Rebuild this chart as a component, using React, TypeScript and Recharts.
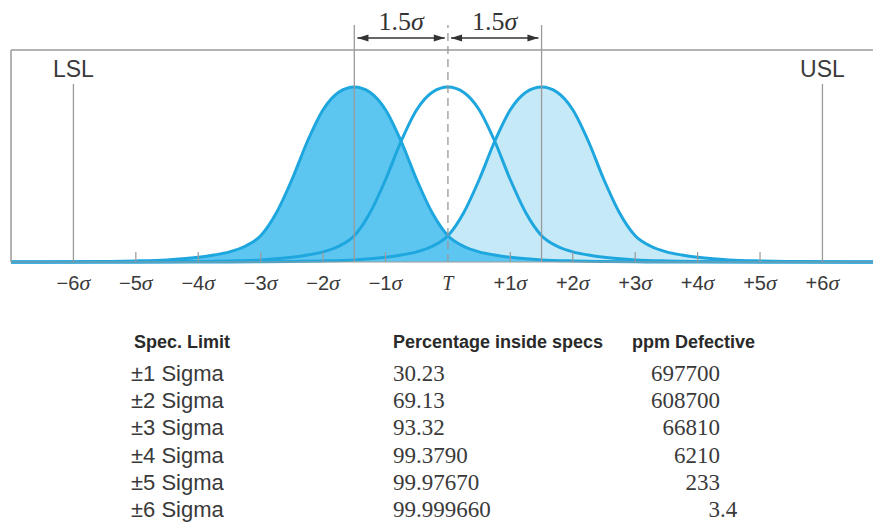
import React from 'react';
import { ComposedChart, Area, Line, XAxis, YAxis, ReferenceLine } from 'recharts';

// Bell-curve profile: offset from the curve's mean (in axis sigma units) and relative height
const CURVE_OFFSETS = [-5, -4.5, -4, -3.5, -3, -2.75, -2.5, -2.25, -2, -1.75, -1.5, -1.25, -1, -0.75, -0.5, -0.25, 0, 0.25, 0.5, 0.75, 1, 1.25, 1.5, 1.75, 2, 2.25, 2.5, 2.75, 3, 3.5, 4, 4.5, 5];
const CURVE_HEIGHTS = [0, 0.001, 0.003, 0.006, 0.012, 0.018, 0.027, 0.04, 0.058, 0.09, 0.15, 0.28, 0.47, 0.69, 0.87, 0.97, 1, 0.97, 0.87, 0.69, 0.47, 0.28, 0.15, 0.09, 0.058, 0.04, 0.027, 0.018, 0.012, 0.006, 0.003, 0.001, 0];

const MEAN_LEFT = -1.5;
const MEAN_CENTER = 0;
const MEAN_RIGHT = 1.5;

const X_MIN = -7;
const X_MAX = 6.81;
const Y_MAX = 1.2114;

const TICK_VALUES = [-6, -5, -4, -3, -2, -1, 0, 1, 2, 3, 4, 5, 6];
const TICK_LABELS = ['−6', '−5', '−4', '−3', '−2', '−1', 'T', '+1', '+2', '+3', '+4', '+5', '+6'];

const TABLE_HEADERS = ['Spec. Limit', 'Percentage inside specs', 'ppm Defective'];
const SPEC_LIMITS = ['±1 Sigma', '±2 Sigma', '±3 Sigma', '±4 Sigma', '±5 Sigma', '±6 Sigma'];
const PCT_INSIDE = ['30.23', '69.13', '93.32', '99.3790', '99.97670', '99.999660'];
const PPM_DEFECTIVE = ['697700', '608700', '66810', '6210', '233', '3.4'];

const buildCurve = (mean: number) => {
  const pts = CURVE_OFFSETS.map((o, i) => ({ x: mean + o, y: CURVE_HEIGHTS[i] }));
  return [{ x: X_MIN, y: 0 }, ...pts, { x: X_MAX, y: 0 }];
};

const leftData = buildCurve(MEAN_LEFT);
const centerData = buildCurve(MEAN_CENTER);
const rightData = buildCurve(MEAN_RIGHT);

const STROKE = '#1ea6de';
const DARK_FILL = '#5cc6f0';
const LIGHT_FILL = '#c6e9f8';
const GREY = '#9a9a9a';
const TEXT = '#3a3a3a';

const SigmaTick = (props: any) => {
  const { x, y, payload } = props;
  const v = payload.value;
  const i = TICK_VALUES.indexOf(v);
  const label = TICK_LABELS[i];
  const mark = Math.abs(v) !== 6 && v !== 0;
  return (
    <g>
      {mark && <line x1={x} x2={x} y1={y} y2={y - 10} stroke={GREY} strokeWidth={1.2} />}
      <text x={x} y={y + 28} textAnchor="middle" fill={TEXT} fontSize={20} fontFamily="'Liberation Sans', Arial, sans-serif">
        {v === 0 ? (
          <tspan fontFamily="'Liberation Serif', serif" fontStyle="italic">T</tspan>
        ) : (
          <>
            <tspan>{label}</tspan>
            <tspan fontFamily="'Liberation Serif', serif" fontStyle="italic" fontSize={22}>σ</tspan>
          </>
        )}
      </text>
    </g>
  );
};

const arrowShape = (p: any) => {
  const { x1, y1, x2, y2 } = p;
  const h = 11;
  const w = 3.5;
  return (
    <g>
      <line x1={x1} y1={y1} x2={x2} y2={y2} stroke="#333" strokeWidth={1.3} />
      <polygon points={`${x1},${y1} ${x1 + h},${y1 - w} ${x1 + h},${y1 + w}`} fill="#333" />
      <polygon points={`${x2},${y2} ${x2 - h},${y2 - w} ${x2 - h},${y2 + w}`} fill="#333" />
      <text x={(x1 + x2) / 2} y={y1 - 8} textAnchor="middle" fill="#333" fontSize={26} fontFamily="'Liberation Serif', serif">
        1.5<tspan fontStyle="italic">σ</tspan>
      </text>
    </g>
  );
};

const specShape = (label: string) => (p: any) => {
  const { x1, y1, x2, y2 } = p;
  const top = Math.min(y1, y2);
  return (
    <g>
      <line x1={x1} y1={y1} x2={x2} y2={y2} stroke={GREY} strokeWidth={1.3} />
      <text x={x1} y={top - 7} textAnchor="middle" fill={TEXT} fontSize={23} fontFamily="'Liberation Sans', Arial, sans-serif">
        {label}
      </text>
    </g>
  );
};

const LINE_TOP = 1.354;
const ARROW_Y = 1.28;

export default function App() {
  const rowY = (i: number) => 381 + i * 27.2;
  return (
    <div style={{ position: 'relative', width: 873, height: 523, background: '#fff' }}>
      <style>{'body{margin:0;background:#fff}'}</style>
      <ComposedChart width={873} height={523} margin={{ top: 50, right: 0, bottom: 231, left: 11 }}>
        <XAxis
          type="number"
          dataKey="x"
          domain={[X_MIN, X_MAX]}
          ticks={TICK_VALUES}
          interval={0}
          height={30}
          tickSize={0}
          tickMargin={0}
          tickLine={false}
          axisLine={{ stroke: GREY, strokeWidth: 1.2 }}
          tick={<SigmaTick />}
        />
        <YAxis type="number" domain={[0, Y_MAX]} hide />
        <Area data={rightData} dataKey="y" type="monotone" stroke="none" fill={LIGHT_FILL} fillOpacity={1} isAnimationActive={false} />
        <Area data={leftData} dataKey="y" type="monotone" stroke="none" fill={DARK_FILL} fillOpacity={1} isAnimationActive={false} />
        <Line data={rightData} dataKey="y" type="monotone" stroke={STROKE} strokeWidth={3} dot={false} isAnimationActive={false} />
        <Line data={centerData} dataKey="y" type="monotone" stroke={STROKE} strokeWidth={3} dot={false} isAnimationActive={false} />
        <Line data={leftData} dataKey="y" type="monotone" stroke={STROKE} strokeWidth={3} dot={false} isAnimationActive={false} />
        <ReferenceLine y={Y_MAX} stroke={GREY} strokeWidth={1.5} />
        <ReferenceLine x={X_MIN} stroke={GREY} strokeWidth={1.5} />
        <ReferenceLine segment={[{ x: -6, y: 0 }, { x: -6, y: 1.017 }]} ifOverflow="visible" shape={specShape('LSL')} />
        <ReferenceLine segment={[{ x: 6, y: 0 }, { x: 6, y: 1.017 }]} ifOverflow="visible" shape={specShape('USL')} />
        <ReferenceLine segment={[{ x: MEAN_LEFT, y: 0 }, { x: MEAN_LEFT, y: LINE_TOP }]} ifOverflow="visible" stroke={GREY} strokeWidth={1.3} />
        <ReferenceLine segment={[{ x: MEAN_RIGHT, y: 0 }, { x: MEAN_RIGHT, y: LINE_TOP }]} ifOverflow="visible" stroke={GREY} strokeWidth={1.3} />
        <ReferenceLine segment={[{ x: MEAN_CENTER, y: 0 }, { x: MEAN_CENTER, y: LINE_TOP }]} ifOverflow="visible" stroke={GREY} strokeWidth={1.3} strokeDasharray="8 5" />
        <ReferenceLine segment={[{ x: -1.45, y: ARROW_Y }, { x: -0.05, y: ARROW_Y }]} ifOverflow="visible" shape={arrowShape} />
        <ReferenceLine segment={[{ x: 0.05, y: ARROW_Y }, { x: 1.45, y: ARROW_Y }]} ifOverflow="visible" shape={arrowShape} />
      </ComposedChart>
      <svg width={873} height={523} style={{ position: 'absolute', left: 0, top: 0, pointerEvents: 'none' }}>
        <g fontFamily="'Liberation Sans Narrow', 'Arial Narrow', 'Liberation Sans', sans-serif" fontWeight={700} fontSize={18} fill="#2a2a2a">
          <text x={134} y={348}>{TABLE_HEADERS[0]}</text>
          <text x={393} y={348}>{TABLE_HEADERS[1]}</text>
          <text x={632} y={348}>{TABLE_HEADERS[2]}</text>
        </g>
        {SPEC_LIMITS.map((s, i) => (
          <text key={'s' + i} x={131} y={rowY(i)} fontFamily="'Liberation Sans', Arial, sans-serif" fontSize={22} fill={TEXT}>{s}</text>
        ))}
        {PCT_INSIDE.map((s, i) => (
          <text key={'p' + i} x={393} y={rowY(i)} fontFamily="'Liberation Serif', serif" fontSize={23} fill={TEXT}>{s}</text>
        ))}
        {PPM_DEFECTIVE.map((s, i) => {
          const [intPart, frac] = s.split('.');
          return (
            <g key={'d' + i} fontFamily="'Liberation Serif', serif" fontSize={23} fill={TEXT}>
              <text x={720} y={rowY(i)} textAnchor="end">{intPart}</text>
              {frac !== undefined && <text x={720} y={rowY(i)}>{'.' + frac}</text>}
            </g>
          );
        })}
      </svg>
    </div>
  );
}
